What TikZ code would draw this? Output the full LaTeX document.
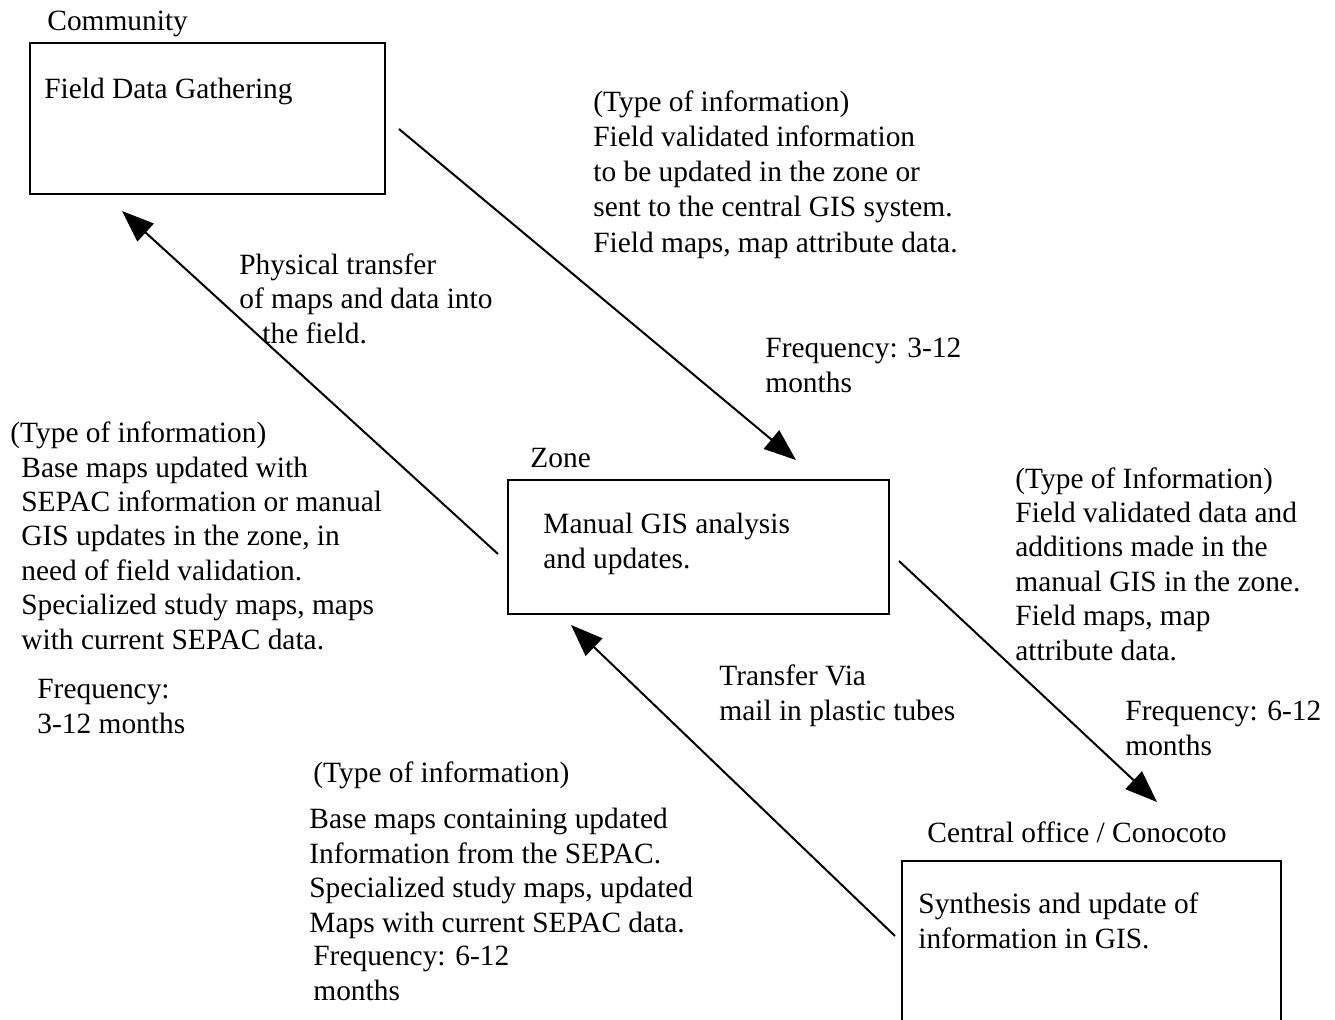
\documentclass[tikz,border=0pt]{standalone}
\usepackage{fontspec}
\setmainfont{Liberation Serif}
\usetikzlibrary{arrows.meta,calc}
\begin{document}
\begin{tikzpicture}[x=0.5pt,y=-0.5pt,
  box/.style={draw,line width=1pt,inner sep=0pt,anchor=north west},
  txt/.style={anchor=base west,inner sep=0pt,align=left,font=\fontsize{14.7}{17.2}\selectfont},
  wide/.style={font=\fontsize{14.7}{17.6}\selectfont},
  flow/.style={line width=1pt,-{Triangle[length=16pt,width=12pt]}}]
\clip (0,0) rectangle (1335,1019);
\fill[white] (0,0) rectangle (1335,1019);

% boxes
\node[box,minimum width=177.5pt,minimum height=75.5pt] (community) at (29,42) {};
\node[box,minimum width=190.5pt,minimum height=67pt] (zone) at (507,479) {};
\node[box,minimum width=189.5pt,minimum height=100pt] (central) at (901,860) {};

% box titles and contents (anchor = baseline of last line)
\node[txt] (communitylbl) at (47,30) {Community};
\node[txt] (fieldtxt) at (44,98) {Field Data Gathering};
\node[txt] (zonelbl) at (530,467) {Zone};
\node[txt] (zonetxt) at (543,568) {Manual GIS analysis\\and updates.};
\node[txt] (centrallbl) at (927,842) {Central office / Conocoto};
\node[txt] (centraltxt) at (918,948) {Synthesis and update of\\information in GIS.};

% connector end points
\coordinate (a1s) at ($(community.east)+(13,10.5)$);
\coordinate (a1e) at ($(zone.north)+(97.5,-19)$);
\coordinate (a2s) at ($(zone.west)+(-9,7)$);
\coordinate (a2e) at ($(community.south)+(-85.5,16)$);
\coordinate (a3s) at ($(zone.east)+(9,14)$);
\coordinate (a3e) at ($(central.north)+(65.5,-58)$);
\coordinate (a4s) at ($(central.north west)+(-6,76)$);
\coordinate (a4e) at ($(zone.south west)+(64,10)$);

\draw[flow] (a1s) -- (a1e);
\draw[flow] (a2s) -- (a2e);
\draw[flow] (a3s) -- (a3e);
\draw[flow] (a4s) -- (a4e);

% annotations
\node[txt,wide] (info1) at (593,252) {(Type of information)\\Field validated information\\to be updated in the zone or\\sent to the central GIS system.\\Field maps, map attribute data.};
\node[txt] (freq1) at (765,392) {Frequency: 3-12\\months};

\node[txt] (phys) at (239,343) {Physical transfer\\of maps and data into\\\hspace*{11.5pt}the field.};

\node[txt] (info2) at (10,649) {(Type of information)\\\hspace*{5.5pt}Base maps updated with\\\hspace*{5.5pt}SEPAC information or manual\\\hspace*{5.5pt}GIS updates in the zone, in\\\hspace*{5.5pt}need of field validation.\\\hspace*{5.5pt}Specialized study maps, maps\\\hspace*{5.5pt}with current SEPAC data.};
\node[txt] (freq2) at (37,733) {Frequency:\\3-12 months};

\node[txt] (mail) at (719,720) {Transfer Via\\mail in plastic tubes};

\node[txt] (info3) at (313,782) {(Type of information)};
\node[txt] (info3b) at (309,932) {Base maps containing updated\\Information from the SEPAC.\\Specialized study maps, updated\\Maps with current SEPAC data.};
\node[txt] (freq3) at (313,1000) {Frequency: 6-12\\months};

\node[txt] (info4) at (1015,660) {(Type of Information)\\Field validated data and\\additions made in the\\manual GIS in the zone.\\Field maps, map\\attribute data.};
\node[txt] (freq4) at (1125,755) {Frequency: 6-12\\months};
\end{tikzpicture}
\end{document}
